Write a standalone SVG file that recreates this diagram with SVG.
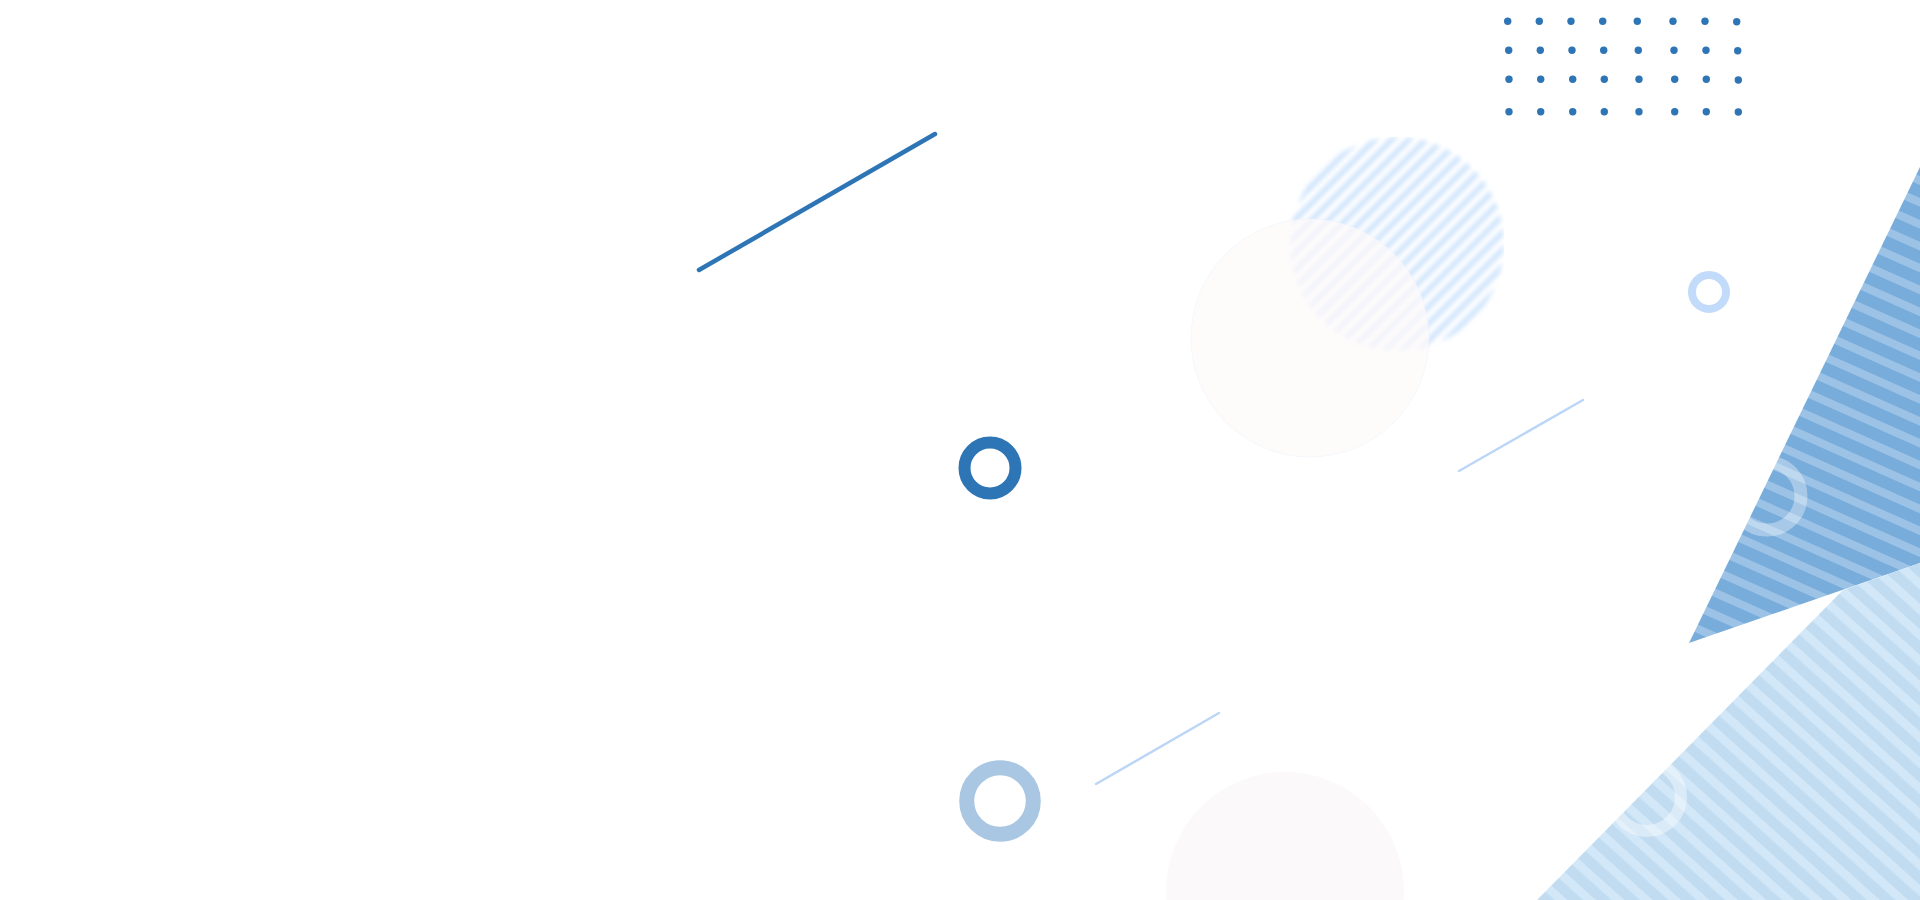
<svg xmlns="http://www.w3.org/2000/svg" width="1920" height="900" viewBox="0 0 1920 900">
  <style>
    .dot { fill: #2e75b6; }
    .ring { fill: none; }
  </style>
  <defs>
    <pattern id="hatchBlue" patternUnits="userSpaceOnUse" width="12" height="12" patternTransform="rotate(-45)">
      <rect x="0" y="0" width="12" height="6" fill="#d2e6fd"/>
    </pattern>
    <pattern id="stripesDark" patternUnits="userSpaceOnUse" width="20" height="20" patternTransform="rotate(24)">
      <rect x="0" y="0" width="20" height="20" fill="#78acdb"/>
      <rect x="0" y="0" width="20" height="8" fill="#9cc3e6"/>
    </pattern>
    <pattern id="stripesLight" patternUnits="userSpaceOnUse" width="19" height="19" patternTransform="rotate(42)">
      <rect x="0" y="0" width="19" height="19" fill="#c1dcf1"/>
      <rect x="0" y="0" width="19" height="8.5" fill="#d2e8f8"/>
    </pattern>
    <filter id="soft" x="-10%" y="-10%" width="120%" height="120%">
      <feGaussianBlur stdDeviation="2.3"/>
    </filter>
    <clipPath id="hatchClip">
      <rect x="1280" y="137" width="224" height="230"/>
    </clipPath>
  </defs>

  <rect x="0" y="0" width="1920" height="900" fill="#ffffff"/>

  <!-- dot grid -->
  <g id="dot-grid">
    <circle class="dot" cx="1507.7" cy="21.3" r="3.7"/>
    <circle class="dot" cx="1539.3" cy="21.3" r="3.7"/>
    <circle class="dot" cx="1571" cy="21.3" r="3.7"/>
    <circle class="dot" cx="1602.7" cy="21.3" r="3.7"/>
    <circle class="dot" cx="1637.3" cy="21.3" r="3.7"/>
    <circle class="dot" cx="1673" cy="21.3" r="3.7"/>
    <circle class="dot" cx="1705" cy="21.3" r="3.7"/>
    <circle class="dot" cx="1736.7" cy="21.7" r="3.7"/>

    <circle class="dot" cx="1508.7" cy="50.3" r="3.7"/>
    <circle class="dot" cx="1540.3" cy="50.3" r="3.7"/>
    <circle class="dot" cx="1572" cy="50.3" r="3.7"/>
    <circle class="dot" cx="1603.7" cy="50.3" r="3.7"/>
    <circle class="dot" cx="1638.3" cy="50.3" r="3.7"/>
    <circle class="dot" cx="1674" cy="50.3" r="3.7"/>
    <circle class="dot" cx="1706" cy="50.3" r="3.7"/>
    <circle class="dot" cx="1737.7" cy="50.7" r="3.7"/>

    <circle class="dot" cx="1509" cy="79.3" r="3.7"/>
    <circle class="dot" cx="1540.7" cy="79.3" r="3.7"/>
    <circle class="dot" cx="1572.7" cy="79.3" r="3.7"/>
    <circle class="dot" cx="1604.3" cy="79.3" r="3.7"/>
    <circle class="dot" cx="1639" cy="79.3" r="3.7"/>
    <circle class="dot" cx="1674.7" cy="79.3" r="3.7"/>
    <circle class="dot" cx="1706.3" cy="79.3" r="3.7"/>
    <circle class="dot" cx="1738.3" cy="80" r="3.7"/>

    <circle class="dot" cx="1509" cy="111.7" r="3.7"/>
    <circle class="dot" cx="1540.7" cy="111.7" r="3.7"/>
    <circle class="dot" cx="1572.7" cy="111.7" r="3.7"/>
    <circle class="dot" cx="1604.3" cy="111.7" r="3.7"/>
    <circle class="dot" cx="1639" cy="111.7" r="3.7"/>
    <circle class="dot" cx="1674.7" cy="111.7" r="3.7"/>
    <circle class="dot" cx="1706.3" cy="111.7" r="3.7"/>
    <circle class="dot" cx="1738.3" cy="112" r="3.7"/>
  </g>

  <!-- hatched circle -->
  <g id="hatched-circle" clip-path="url(#hatchClip)">
    <circle cx="1397" cy="244" r="107" fill="url(#hatchBlue)" filter="url(#soft)"/>
  </g>

  <!-- pale pink circles -->
  <g id="pink-circle-top">
    <circle cx="1310" cy="338" r="119" fill="#fdf9fa" fill-opacity="0.72" stroke="#eef4fb" stroke-opacity="0.6" stroke-width="1"/>
  </g>
  <g id="pink-circle-bottom">
    <circle cx="1285" cy="891" r="119" fill="#fcf9fa"/>
  </g>

  <!-- dark striped triangle -->
  <g id="triangle-dark">
    <polygon points="1920,167 1689,643 1920,563" fill="url(#stripesDark)"/>
    <circle class="ring" cx="1767" cy="496" r="34" stroke="#ffffff" stroke-opacity="0.35" stroke-width="13"/>
  </g>

  <!-- light striped triangle -->
  <g id="triangle-light">
    <polygon points="1537,900 1843,590 1920,563 1920,900" fill="url(#stripesLight)"/>
    <circle class="ring" cx="1647" cy="797" r="34" stroke="#ffffff" stroke-opacity="0.4" stroke-width="12"/>
  </g>

  <!-- rings -->
  <g id="ring-dark">
    <circle class="ring" cx="990" cy="468" r="25.5" stroke="#2e75b6" stroke-width="12"/>
  </g>
  <g id="ring-light">
    <circle class="ring" cx="1000" cy="801" r="33.3" stroke="#a9c7e2" stroke-width="15"/>
  </g>
  <g id="ring-small">
    <circle class="ring" cx="1709" cy="292" r="17" stroke="#c2dbfa" stroke-width="8"/>
  </g>

  <!-- line strokes -->
  <g id="lines" stroke-linecap="round">
    <line x1="699" y1="270" x2="935" y2="134" stroke="#2e75b6" stroke-width="4.5"/>
    <line x1="1459" y1="471" x2="1583" y2="400" stroke="#bcd6f7" stroke-width="2.5"/>
    <line x1="1096" y1="784" x2="1219" y2="713" stroke="#bcd6f7" stroke-width="2.5"/>
  </g>
</svg>
